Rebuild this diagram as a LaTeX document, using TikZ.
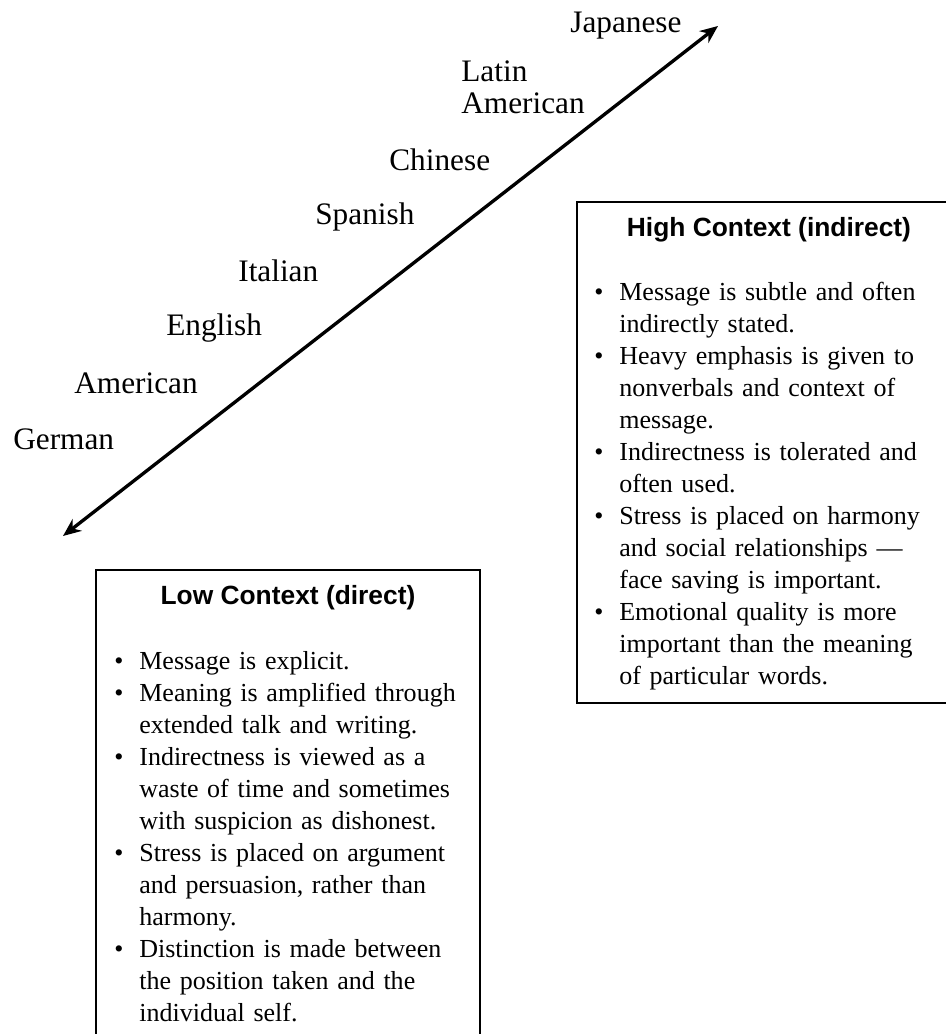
\documentclass[tikz,border=0pt]{standalone}
\usepackage{fontspec}
\setmainfont{Liberation Serif}
\newfontfamily\headfont{Liberation Sans}
\usetikzlibrary{arrows.meta, positioning}

\newcommand{\bul}[1]{\par\noindent\hangindent=0.5cm\hangafter=1\makebox[0.5cm][l]{\textbullet}#1\par}

\tikzset{
  country/.style={font=\fontsize{17.8}{18.2}\selectfont, inner sep=0pt, anchor=base west},
  panel/.style={draw, line width=1.1pt, minimum width=7.68cm, inner sep=0pt, anchor=north west},
  paneltitle/.style={font=\headfont\bfseries\fontsize{15}{18}\selectfont, inner sep=0pt, anchor=base},
  points/.style={font=\fontsize{14.8}{18.2}\selectfont, inner sep=0pt, anchor=base west, text width=#1},
  contextarrow/.style={line width=1.9pt, {Stealth[length=0.36cm,width=0.3cm]}-{Stealth[length=0.36cm,width=0.3cm]}},
}

\begin{document}
\begin{tikzpicture}
  \useasboundingbox (0,0) rectangle (18.9,20.68);

  % low to high context
  \coordinate (lowend) at (1.26,9.96);
  \coordinate (highend) at (14.36,20.16);
  \draw[contextarrow] (lowend) -- (highend);

  % cultures
  \node[country] (german) at (0.26,11.68) {German};
  \node[country] (american) at (1.48,12.80) {American};
  \node[country] (english) at (3.32,13.96) {English};
  \node[country] (italian) at (4.76,15.05) {Italian};
  \node[country] (spanish) at (6.30,16.18) {Spanish};
  \node[country] (chinese) at (7.78,17.26) {Chinese};
  \node[country, align=left, anchor=north west] (latin) at (9.22,19.48) {Latin\\American};
  \node[country] (japanese) at (11.40,20.03) {Japanese};

  % high context box
  \node[panel, minimum height=10.02cm] (highbox) at (11.52,16.66) {};
  \node[paneltitle] (hightitle) at ([yshift=-0.72cm]highbox.north) {High Context (indirect)};
  \node[points=6.7cm] (highpoints) at ([xshift=0.36cm, yshift=-1.36cm]highbox.north west) {\raggedright
    \bul{Message is subtle and often\newline indirectly stated.}
    \bul{Heavy emphasis is given to\newline nonverbals and context of\newline message.}
    \bul{Indirectness is tolerated and\newline often used.}
    \bul{Stress is placed on harmony\newline and social relationships —\newline face saving is important.}
    \bul{Emotional quality is more\newline important than the meaning\newline of particular words.}};

  % low context box
  \node[panel, minimum height=9.6cm] (lowbox) at (1.9,9.30) {};
  \node[paneltitle] (lowtitle) at ([yshift=-0.72cm]lowbox.north) {Low Context (direct)};
  \node[points=7.1cm] (lowpoints) at ([xshift=0.38cm, yshift=-1.37cm]lowbox.north west) {\raggedright
    \bul{Message is explicit.}
    \bul{Meaning is amplified through\newline extended talk and writing.}
    \bul{Indirectness is viewed as a\newline waste of time and sometimes\newline with suspicion as dishonest.}
    \bul{Stress is placed on argument\newline and persuasion, rather than\newline harmony.}
    \bul{Distinction is made between\newline the position taken and the\newline individual self.}};
\end{tikzpicture}
\end{document}
